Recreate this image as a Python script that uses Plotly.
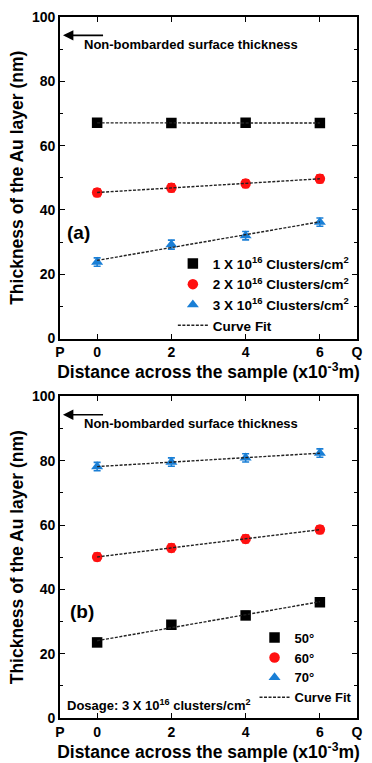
import numpy as np
import plotly.graph_objects as go
from plotly.subplots import make_subplots

# Positions across the sample (x10^-3 m)
distance = [0, 2, 4, 6]

# Panel (a): different dosages
dose_labels = [
    "1 X 10<sup>16</sup> Clusters/cm<sup>2</sup>",
    "2 X 10<sup>16</sup> Clusters/cm<sup>2</sup>",
    "3 X 10<sup>16</sup> Clusters/cm<sup>2</sup>",
]
dose1 = [67.1, 67.0, 67.1, 67.0]
dose2 = [45.4, 46.9, 48.2, 49.7]
dose3 = [23.8, 29.2, 32.0, 36.2]
dose_err1 = [1.0, 1.0, 1.0, 1.0]
dose_err2 = [1.2, 1.2, 1.2, 1.2]
dose_err3 = [1.3, 1.4, 1.3, 1.3]

# Panel (b): different angles at fixed dosage
angle_labels = ["50°", "60°", "70°"]
angle50 = [23.5, 29.0, 31.9, 36.0]
angle60 = [50.1, 52.9, 55.7, 58.6]
angle70 = [78.2, 79.6, 80.9, 82.4]
angle_err50 = [1.2, 1.2, 1.2, 1.2]
angle_err60 = [1.2, 1.2, 1.2, 1.2]
angle_err70 = [1.3, 1.3, 1.3, 1.3]

# Axis tick labels
x_tickvals = [-1, 0, 2, 4, 6, 7]
x_ticktext = ["P", "0", "2", "4", "6", "Q"]

BLACK = "#000000"
RED = "#ff1010"
BLUE = "#1a7fd6"
FONT = "Liberation Sans, Arial, sans-serif"

fig = make_subplots(rows=2, cols=1, vertical_spacing=0.0)


def add_panel(row, legend, labels, series, errors):
    symbols = ["square", "circle", "triangle-up"]
    colors = [BLACK, RED, BLUE]
    for lab, ys, err, sym, col in zip(labels, series, errors, symbols, colors):
        fig.add_trace(
            go.Scatter(
                x=distance, y=ys, mode="markers", name=lab,
                marker=dict(symbol=sym, size=10.5, color=col),
                error_y=dict(type="data", array=err, color=col,
                             thickness=1.6, width=3.5),
                legend=legend,
            ),
            row=row, col=1,
        )
    # Linear fits through each series
    for i, ys in enumerate(series):
        slope, intercept = np.polyfit(distance, ys, 1)
        fx = np.array([distance[0], distance[-1]])
        fig.add_trace(
            go.Scatter(
                x=fx, y=slope * fx + intercept, mode="lines",
                name="Curve Fit", showlegend=(i == 0),
                line=dict(color="#222222", width=1.4, dash="3px,1.5px"),
                legend=legend,
            ),
            row=row, col=1,
        )


add_panel(1, "legend", dose_labels, [dose1, dose2, dose3],
          [dose_err1, dose_err2, dose_err3])
add_panel(2, "legend2", angle_labels, [angle50, angle60, angle70],
          [angle_err50, angle_err60, angle_err70])

axis_common = dict(
    showline=True, linecolor="black", linewidth=1.6, mirror="ticks",
    ticks="inside", ticklen=5, tickwidth=1.4, tickcolor="black",
    showgrid=False, zeroline=False,
    tickfont=dict(family=FONT, size=14, color="black", weight="bold"),
)

xtitle = "Distance across the sample (x10<sup>-3</sup>m)"
ytitle = "Thickness of the Au layer (nm)"

for ax in ("xaxis", "xaxis2"):
    fig.layout[ax].update(
        range=[-1, 7], tickvals=x_tickvals, ticktext=x_ticktext,
        title=dict(text=xtitle, standoff=2,
                   font=dict(family=FONT, size=17.5, color="black", weight="bold")),
        **axis_common,
    )
fig.layout.xaxis.update(domain=[0, 1])
fig.layout.xaxis2.update(domain=[0, 1])

for ax in ("yaxis", "yaxis2"):
    fig.layout[ax].update(
        range=[0, 100], tickvals=[0, 20, 40, 60, 80, 100],
        minor=dict(tickvals=[10, 30, 50, 70, 90], ticks="inside", ticklen=3,
                   tickwidth=1.4, tickcolor="black"),
        title=dict(text=ytitle, standoff=4,
                   font=dict(family=FONT, size=17.5, color="black", weight="bold")),
        **axis_common,
    )
fig.layout.yaxis.update(domain=[380 / 702, 1])
fig.layout.yaxis2.update(domain=[0, 322 / 702])

legend_font = dict(family=FONT, size=13.5, color="black", weight="bold")
fig.update_layout(
    width=372, height=763,
    margin=dict(l=60, r=9, t=17, b=44),
    paper_bgcolor="white", plot_bgcolor="white",
    font=dict(family=FONT, color="black"),
    legend=dict(x=0.38, y=0.67, xanchor="left", yanchor="top",
                bgcolor="rgba(0,0,0,0)", font=legend_font,
                tracegroupgap=0, itemwidth=30),
    legend2=dict(x=0.655, y=0.136, xanchor="left", yanchor="top",
                 bgcolor="rgba(0,0,0,0)",
                 font=dict(family=FONT, size=13, color="black", weight="bold"),
                 tracegroupgap=0, itemwidth=30),
)

note_font = dict(family=FONT, size=13, color="black", weight="bold")
for xr, yr in (("x", "y"), ("x2", "y2")):
    # Arrow marking the non-bombarded thickness
    fig.add_annotation(
        x=-0.92, y=94.3, ax=0.2, ay=94.3, xref=xr, yref=yr,
        axref=xr, ayref=yr, showarrow=True, arrowhead=2, arrowsize=1.3,
        arrowwidth=1.6, arrowcolor="black", text="",
    )
    fig.add_annotation(
        x=-0.42, y=91.6, xref=xr, yref=yr, xanchor="left", yanchor="middle",
        text="Non-bombarded surface thickness", showarrow=False, font=note_font,
    )

panel_font = dict(family=FONT, size=19, color="black", weight="bold")
fig.add_annotation(x=-0.5, y=33, xref="x", yref="y", text="(a)",
                   showarrow=False, font=panel_font)
fig.add_annotation(x=-0.4, y=33.2, xref="x2", yref="y2", text="(b)",
                   showarrow=False, font=panel_font)
fig.add_annotation(
    x=-0.87, y=4.0, xref="x2", yref="y2", xanchor="left", yanchor="middle",
    text="Dosage: 3 X 10<sup>16</sup> clusters/cm<sup>2</sup>", showarrow=False,
    font=dict(family=FONT, size=13, color="black", weight="bold"),
)

fig.write_html("out.html")
